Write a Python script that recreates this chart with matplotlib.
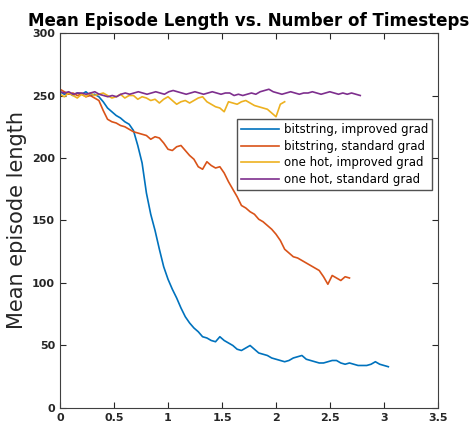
import numpy as np
import matplotlib
matplotlib.use('Agg')
import matplotlib.pyplot as plt

# data (x in timesteps, scaled)
blue_y = [253, 251, 252, 250, 252, 251, 253, 250, 251, 249, 245, 240, 237, 234, 232, 229, 227, 222, 210, 196,
          172, 155, 142, 127, 113, 103, 95, 88, 80, 73, 68, 64, 61, 57, 56, 54, 53, 57, 54, 52,
          50, 47, 46, 48, 50, 47, 44, 43, 42, 40, 39, 38, 37, 38, 40, 41, 42, 39, 38, 37,
          36, 36, 37, 38, 38, 36, 35, 36, 35, 34, 34, 34, 35, 37, 35, 34, 33]
red_y = [255, 253, 251, 252, 250, 251, 249, 250, 248, 246, 238, 231, 229, 228, 226, 225, 223, 221, 220, 219,
         218, 215, 217, 216, 212, 207, 206, 209, 210, 206, 202, 199, 193, 191, 197, 194, 192, 193, 188, 181,
         175, 169, 162, 160, 157, 155, 151, 149, 146, 143, 139, 134, 127, 124, 121, 120, 118, 116, 114, 112,
         110, 105, 99, 106, 104, 102, 105, 104]
yellow_y = [251, 249, 252, 250, 248, 251, 249, 252, 250, 251, 252, 250, 248, 249, 251, 248, 250, 250, 247, 249,
            248, 246, 247, 244, 247, 249, 246, 243, 245, 246, 244, 246, 248, 249, 245, 243, 241, 240, 237, 245,
            244, 243, 245, 246, 244, 242, 241, 240, 239, 236, 233, 243, 245]
purple_y = [253, 252, 253, 251, 252, 252, 251, 252, 253, 251, 250, 249, 250, 249, 251, 252, 251, 252, 253, 252,
            251, 252, 253, 252, 251, 253, 254, 253, 252, 251, 252, 253, 252, 251, 252, 253, 252, 251, 252, 252,
            250, 251, 250, 251, 252, 251, 253, 254, 255, 253, 252, 251, 252, 253, 252, 251, 252, 252, 253, 252,
            251, 252, 253, 252, 251, 252, 251, 252, 251, 250]
x_end = [3.04, 2.68, 2.08, 2.78]
labels = ["bitstring, improved grad", "bitstring, standard grad",
          "one hot, improved grad", "one hot, standard grad"]
colors = ["#0072BD", "#D95319", "#EDB120", "#7E2F8E"]

fig = plt.figure(figsize=(4.74, 4.32), dpi=100)
ax = fig.add_axes([0.1266, 0.0556, 0.7975, 0.868])

for y, xe, lab, c in zip([blue_y, red_y, yellow_y, purple_y], x_end, labels, colors):
    x = np.linspace(0, xe, len(y))
    ax.plot(x, y, color=c, lw=1.2, label=lab)

ax.set_xlim(0, 3.5)
ax.set_ylim(0, 300)
ax.set_xticks([0, 0.5, 1, 1.5, 2, 2.5, 3, 3.5])
ax.set_xticklabels(["0", "0.5", "1", "1.5", "2", "2.5", "3", "3.5"])
ax.set_yticks([0, 50, 100, 150, 200, 250, 300])
ax.tick_params(direction='in', top=True, right=True, labelsize=8, colors='#262626', length=4)
for lab in ax.get_xticklabels() + ax.get_yticklabels():
    lab.set_fontweight('bold')
for s in ax.spines.values():
    s.set_color('#404040')

ax.set_ylabel("Mean episode length", fontsize=15, color='#262626')
ax.set_title("Mean Episode Length vs. Number of Timesteps", fontsize=12, fontweight='bold', pad=5)

leg = ax.legend(loc='upper right', bbox_to_anchor=(0.985, 0.77), fontsize=8.5, frameon=True,
                fancybox=False, edgecolor='#262626', handlelength=3.2, borderpad=0.35,
                labelspacing=0.3, handletextpad=0.4, borderaxespad=0)
leg.get_frame().set_linewidth(1.0)

fig.savefig("out.png", dpi=100)
